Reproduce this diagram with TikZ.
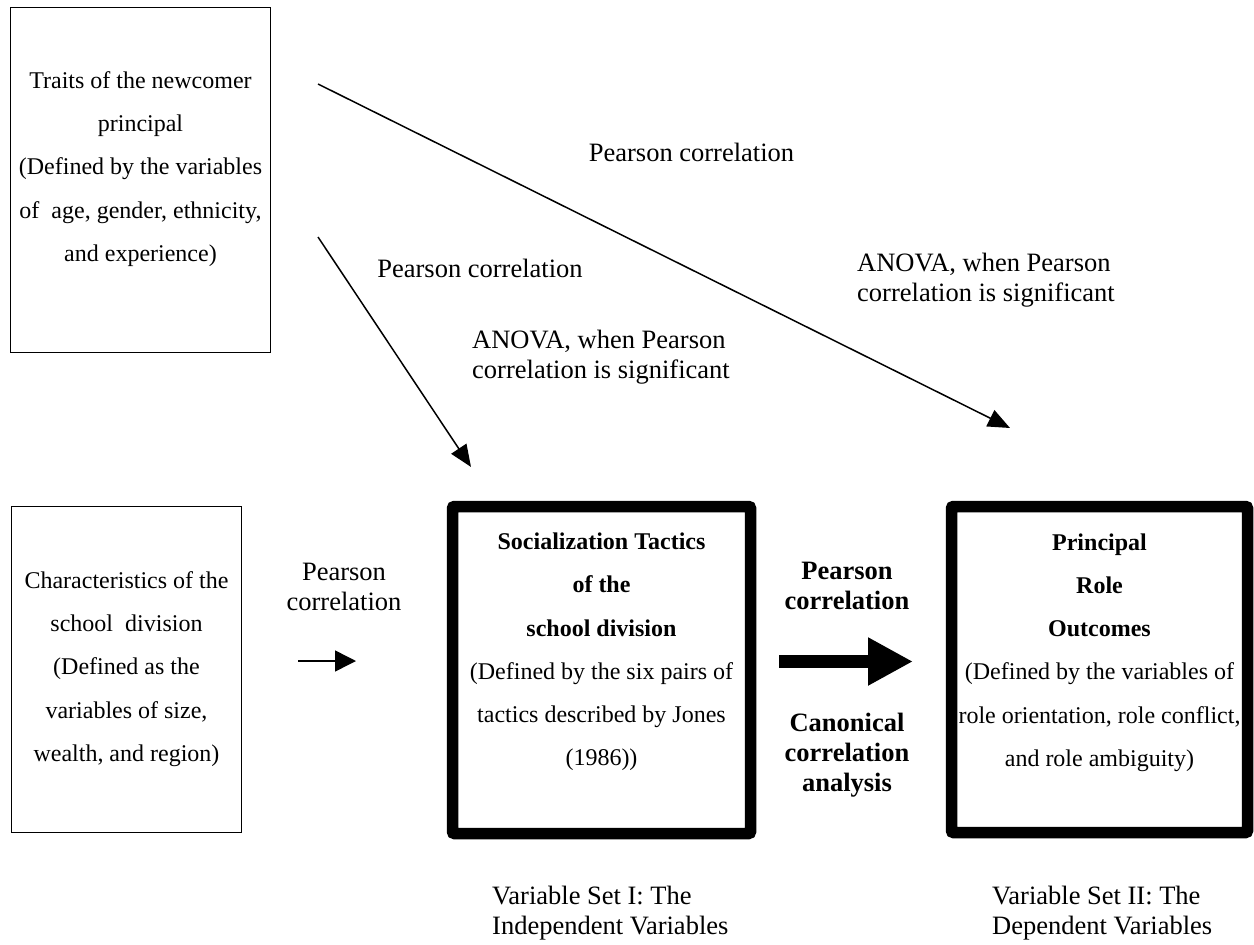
\documentclass[tikz,border=0pt]{standalone}
\usepackage{fontspec}
\setmainfont{Liberation Serif}
\usetikzlibrary{arrows.meta}
\begin{document}
\begin{tikzpicture}[x=1pt,y=-1pt,
  thinbox/.style={draw, line width=1.5pt, inner sep=0pt},
  thickbox/.style={draw, line width=11.5pt, rounded corners=2pt, inner sep=0pt},
  boxtxt/.style={align=center, font=\fontsize{24}{43.2}\selectfont, inner sep=0pt},
  boxbold/.style={align=center, font=\fontsize{24}{43.2}\selectfont\bfseries, inner sep=0pt},
  lbl/.style={align=center, font=\fontsize{26.5}{30}\selectfont, inner sep=0pt},
  lblleft/.style={align=left, font=\fontsize{26.5}{30}\selectfont, inner sep=0pt, anchor=west},
  lblbold/.style={align=center, font=\fontsize{26.5}{30}\selectfont\bfseries, inner sep=0pt},
  conn/.style={line width=1.5pt, -{Triangle[length=22pt,width=18pt]}},
  smallconn/.style={line width=1.5pt, -{Triangle[length=21pt,width=21pt]}},
  bigconn/.style={line width=13pt, -{Triangle[length=45pt 0 0,width=45pt 0 0]}}
]
\useasboundingbox (0,0) rectangle (1254,945);

% boxes
\node[thinbox, minimum width=260pt, minimum height=345pt] (traits) at (140.5,180) {};
\node[boxtxt] (traitstxt) at (140.5,169) {Traits of the newcomer\\principal\\(Defined by the variables\\of\ \ age, gender, ethnicity,\\and experience)};

\node[thinbox, minimum width=230pt, minimum height=326pt] (school) at (126.5,669.5) {};
\node[boxtxt] (schooltxt) at (126.5,669) {Characteristics of the\\school\ \ division\\(Defined as the\\variables of size,\\wealth, and region)};

\node[thickbox, minimum width=298pt, minimum height=327pt] (tactics) at (601.5,670) {};
\node[boxtxt] (tacticstxt) at (601.5,652) {\textbf{Socialization Tactics}\\\textbf{of the}\\\textbf{school division}\\(Defined by the six pairs of\\tactics described by Jones\\(1986))};

\node[thickbox, minimum width=296pt, minimum height=326pt] (outcomes) at (1099.5,669.5) {};
\node[boxtxt] (outcomestxt) at (1099.5,652.5) {\textbf{Principal}\\\textbf{Role}\\\textbf{Outcomes}\\(Defined by the variables of\\role orientation, role conflict,\\and role ambiguity)};

% connector end points
\coordinate (a1s) at (318,84);
\coordinate (a1e) at (1010,428);
\coordinate (a2s) at (318,237);
\coordinate (a2e) at (471,467);
\coordinate (a3s) at (298,661);
\coordinate (a3e) at (356,661);
\coordinate (a4s) at (779,661.5);
\coordinate (a4e) at (913,661.5);

\draw[conn] (a1s) -- (a1e);
\draw[conn] (a2s) -- (a2e);
\draw[smallconn] (a3s) -- (a3e);
\draw[bigconn] (a4s) -- (a4e);

% labels
\node[lbl] (l1) at (691.5,152) {Pearson correlation};
\node[lblleft] (l2) at (857,280) {ANOVA, when Pearson\\correlation is significant};
\node[lbl] (l3) at (480,268) {Pearson correlation};
\node[lblleft] (l4) at (472,357) {ANOVA, when Pearson\\correlation is significant};
\node[lbl] (l5) at (344,587) {Pearson\\correlation};
\node[lblbold] (l6) at (847,586) {Pearson\\correlation};
\node[lblbold] (l7) at (847,755) {Canonical\\correlation\\analysis};
\node[lblleft] (l8) at (492,913) {Variable Set I: The\\Independent Variables};
\node[lblleft] (l9) at (992,913) {Variable Set II: The\\Dependent Variables};
\end{tikzpicture}
\end{document}
